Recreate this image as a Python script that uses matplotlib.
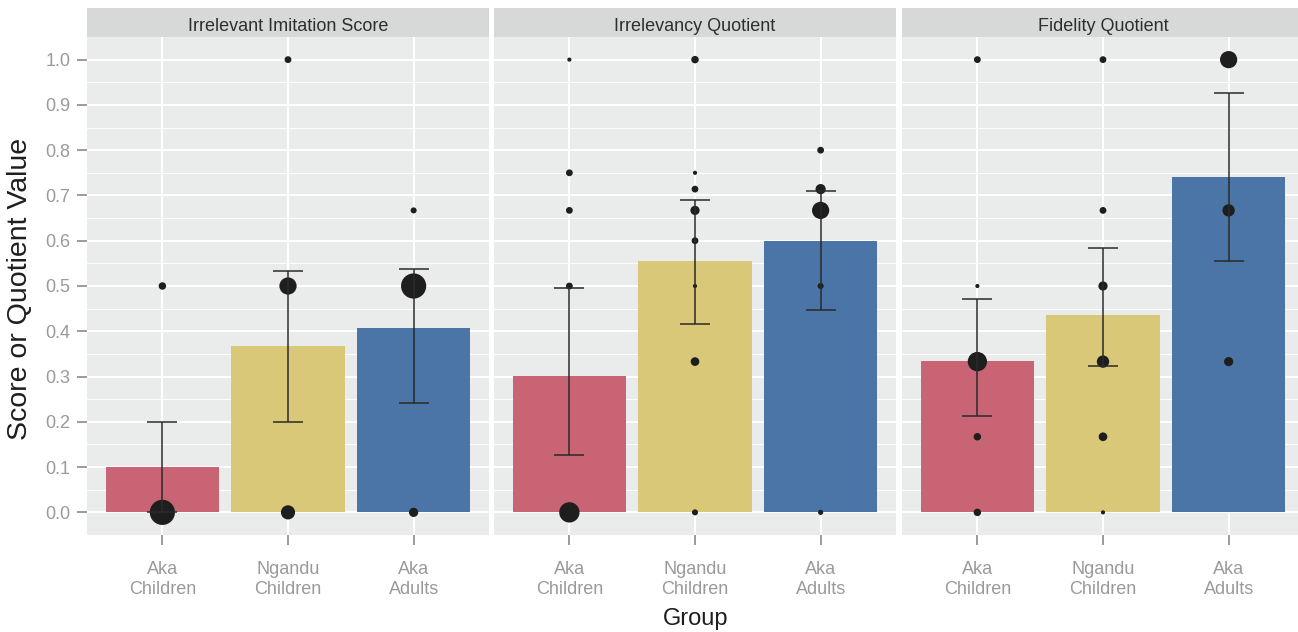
import matplotlib
matplotlib.use("Agg")
import matplotlib.pyplot as plt
import numpy as np

plt.rcParams['font.family'] = ['Liberation Sans', 'DejaVu Sans']

# ---------------- data ----------------
panels = ["Irrelevant Imitation Score", "Irrelevancy Quotient", "Fidelity Quotient"]
groups = ["Aka\nChildren", "Ngandu\nChildren", "Aka\nAdults"]
bar_colors = ["#C86474", "#D9C877", "#4A75A6"]

# bar heights (means) per panel, per group
means = [
    [0.100, 0.367, 0.407],
    [0.302, 0.555, 0.600],
    [0.334, 0.437, 0.740],
]
# error bar limits
err_low = [
    [0.000, 0.200, 0.241],
    [0.126, 0.416, 0.447],
    [0.213, 0.323, 0.556],
]
err_high = [
    [0.200, 0.534, 0.538],
    [0.495, 0.691, 0.709],
    [0.472, 0.584, 0.926],
]
# individual observed values (y) and relative point weights (n)
pt_vals = [
    [[0.5, 0.0], [1.0, 0.5, 0.0], [0.667, 0.5, 0.0]],
    [[1.0, 0.75, 0.667, 0.5, 0.0],
     [1.0, 0.75, 0.714, 0.667, 0.6, 0.5, 0.333, 0.0],
     [0.8, 0.714, 0.667, 0.5, 0.0]],
    [[1.0, 0.5, 0.333, 0.167, 0.0],
     [1.0, 0.667, 0.5, 0.333, 0.167, 0.0],
     [1.0, 0.667, 0.333]],
]
pt_n = [
    [[5, 65], [4, 30, 20], [3, 65, 8]],
    [[1, 4, 4, 4, 42],
     [5, 1, 4, 8, 4, 1, 7, 3],
     [4, 10, 30, 3, 2]],
    [[4, 1, 38, 5, 5],
     [4, 4, 8, 15, 7, 1],
     [30, 15, 8]],
]
yticks = [0.0, 0.1, 0.2, 0.3, 0.4, 0.5, 0.6, 0.7, 0.8, 0.9, 1.0]

# ---------------- layout ----------------
W, H = 1298, 632
fig = plt.figure(figsize=(W / 100, H / 100), dpi=100)
fig.patch.set_facecolor("white")

panel_left_px = [87, 494, 902]
panel_w_px = 402
panel_top_px, panel_bot_px = 37, 535
strip_top_px = 8

panel_bg = "#EAEBEB"
strip_bg = "#D7D8D8"
tick_col = "#9A9A9A"

for pi, title in enumerate(panels):
    l = panel_left_px[pi] / W
    b = (H - panel_bot_px) / H
    w = panel_w_px / W
    h = (panel_bot_px - panel_top_px) / H
    ax = fig.add_axes([l, b, w, h])
    ax.set_facecolor(panel_bg)
    for s in ax.spines.values():
        s.set_visible(False)
    x = np.arange(len(groups))
    ax.set_xlim(-0.6, len(groups) - 0.4)
    ax.set_ylim(-0.05, 1.05)

    # grid
    for yv in yticks:
        ax.axhline(yv, color="white", lw=1.5, zorder=0.5)
    for yv in np.array(yticks[:-1]) + 0.05:
        ax.axhline(yv, color="white", lw=0.7, zorder=0.5)
    for xv in x:
        ax.axvline(xv, color="white", lw=1.5, zorder=0.5)

    ax.bar(x, means[pi], width=0.9, color=bar_colors, zorder=1)

    for gi in range(len(groups)):
        ys = np.array(pt_vals[pi][gi])
        ns = np.array(pt_n[pi][gi])
        ax.scatter(np.full(len(ys), x[gi]), ys, s=5.0 * ns + 4, color="#1E1E1E",
                   linewidths=0, zorder=2)

    m = np.array(means[pi])
    lo = m - np.array(err_low[pi])
    hi = np.array(err_high[pi]) - m
    ax.errorbar(x, m, yerr=[lo, hi], fmt="none", ecolor="#2A2A2A",
                elinewidth=1.1, capsize=11, capthick=1.1, zorder=3)

    ax.set_xticks(x)
    ax.set_xticklabels(groups, color=tick_col, fontsize=13, linespacing=1.2)
    ax.tick_params(axis="x", length=7, width=1.2, color="#8A8A8A", pad=12)
    ax.set_yticks(yticks)
    if pi == 0:
        ax.set_yticklabels([f"{v:.1f}" for v in yticks], color=tick_col, fontsize=13)
        ax.tick_params(axis="y", length=7, width=1.2, color="#8A8A8A", pad=5)
    else:
        ax.tick_params(axis="y", length=0, labelleft=False)

    # strip
    sax = fig.add_axes([l, (H - panel_top_px) / H, w, (panel_top_px - strip_top_px) / H])
    sax.set_facecolor(strip_bg)
    sax.set_xticks([])
    sax.set_yticks([])
    for s in sax.spines.values():
        s.set_visible(False)
    sax.text(0.5, 0.36, title, ha="center", va="center", fontsize=13,
             color="#2E2E2E", transform=sax.transAxes)

fig.text(20 / W, 1 - 289 / H, "Score or Quotient Value", rotation=90,
         ha="center", va="center", fontsize=20.5, color="#1E1E1E")
fig.text(696 / W, 1 - 619 / H, "Group", ha="center", va="center",
         fontsize=17, color="#1E1E1E")

fig.savefig("out.png", dpi=100, facecolor="white")
